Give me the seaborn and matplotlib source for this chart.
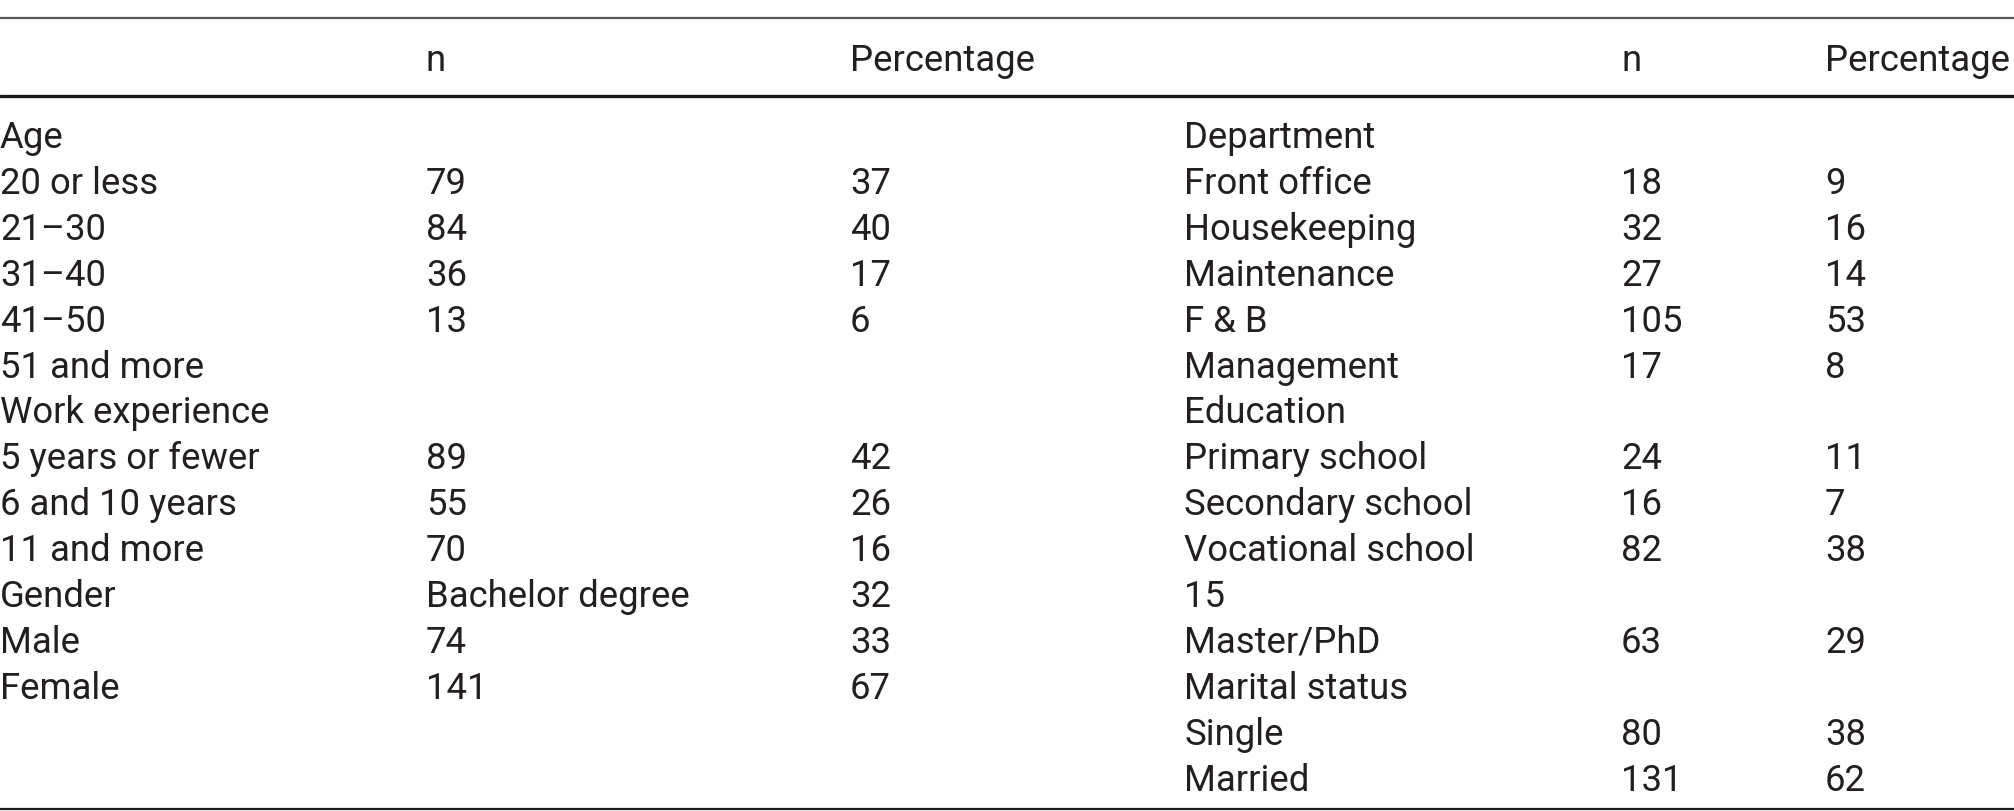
"""Respondent profile table redrawn with seaborn/matplotlib text."""

import matplotlib

matplotlib.use("Agg")
import matplotlib.pyplot as plt
import seaborn as sns

# left block
left_labels = [
    "Age", "20 or less", "21–30", "31–40", "41–50", "51 and more",
    "Work experience", "5 years or fewer", "6 and 10 years", "11 and more",
    "Gender", "Male", "Female",
]
left_n = ["", "79", "84", "36", "13", "", "", "89", "55", "70", "Bachelor degree", "74", "141"]
left_pct = ["", "37", "40", "17", "6", "", "", "42", "26", "16", "32", "33", "67"]

# right block
right_labels = [
    "Department", "Front office", "Housekeeping", "Maintenance", "F & B",
    "Management", "Education", "Primary school", "Secondary school",
    "Vocational school", "15", "Master/PhD", "Marital status", "Single", "Married",
]
right_n = ["", "18", "32", "27", "105", "17", "", "24", "16", "82", "", "63", "", "80", "131"]
right_pct = ["", "9", "16", "14", "53", "8", "", "11", "7", "38", "", "29", "", "38", "62"]

header = ["", "n", "Percentage", "", "n", "Percentage"]

W, H = 2014, 811
col_x = [0, 426, 850, 1184, 1621, 1825]
row0, row_step = 138, 45.9
ink = "#231f20"


def main() -> None:
    sns.set_theme(style="white")
    plt.rcParams["font.family"] = ["Roboto", "DejaVu Sans"]

    fig = plt.figure(figsize=(W / 100, H / 100), dpi=100)
    ax = fig.add_axes([0, 0, 1, 1])
    ax.set_xlim(0, W)
    ax.set_ylim(H, 0)
    ax.set_axis_off()

    fs = 26.3
    style = dict(fontsize=fs, color=ink, va="center", ha="left")
    for x, txt in zip(col_x, header):
        ax.text(x, 61, txt, **style)

    blocks = [
        (col_x[0:3], left_labels, left_n, left_pct),
        (col_x[3:6], right_labels, right_n, right_pct),
    ]
    for xs, labels, ns, pcts in blocks:
        for i, row in enumerate(zip(labels, ns, pcts)):
            y = row0 + i * row_step
            for x, txt in zip(xs, row):
                ax.text(x, y, txt, **style)

    ax.axhline(18, color="#5a5a5a", lw=1.6)
    ax.axhline(96, color="#1a1a1a", lw=2.4)
    ax.axhline(809, color="#1a1a1a", lw=1.6)

    fig.savefig("out.png", dpi=100)
    plt.close(fig)


if __name__ == "__main__":
    main()
